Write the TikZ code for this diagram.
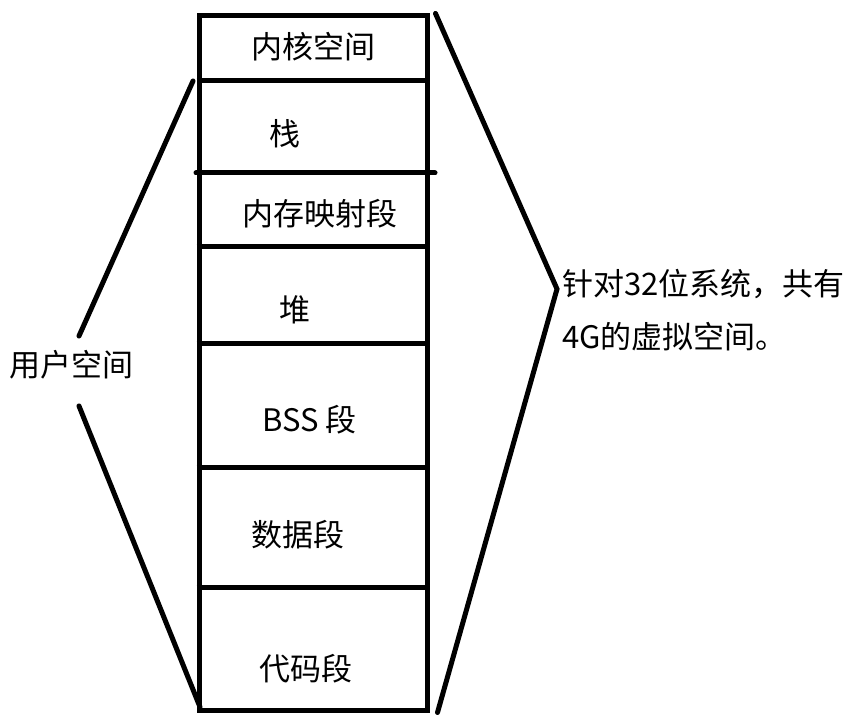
\documentclass[tikz,border=0pt]{standalone}
\usepackage{fontspec}
\setmainfont{Noto Sans CJK SC}

\begin{document}
\begin{tikzpicture}[
    x=1pt, y=-1pt,
    thick line/.style = {line width=5pt},
    brace/.style      = {line width=5pt, line cap=round},
    column/.style     = {draw, line width=5pt, minimum width=228pt,
                         minimum height=694pt, inner sep=0pt},
    seg/.style        = {font=\fontsize{31}{36}\selectfont, inner sep=0pt,
                         anchor=base west}
]
\useasboundingbox (0,0) rectangle (864,719);

% Memory column
\node[column] (mem) at (313,363) {};
\foreach \y in {81, 247, 343, 467, 587}
    \draw[thick line] (mem.west |- 0,\y) -- (mem.east |- 0,\y);
\draw[brace] (196,173) -- (435,173);

% Segment labels
\foreach \n/\x/\y/\t in {kernel/251/59/内核空间, stack/269/146/栈,
        mmap/242/226/内存映射段, heap/279/321/堆, bss/262/431/BSS 段,
        data/251/546/数据段, code/259/680/代码段}
    \node[seg] (\n) at (\x,\y) {\t};

% User space brace
\node[seg] (user) at (9,376) {用户空间};
\coordinate (uTop) at (193,81);
\coordinate (uUp)  at (79,336);
\coordinate (uLow) at (79,406);
\coordinate (uBot) at (200,707);
\draw[brace] (uTop) -- (uUp);
\draw[brace] (uLow) -- (uBot);

% Whole address space brace
\coordinate (tip) at (557,289);
\draw[brace] ([xshift=6pt]mem.north east) -- (tip)
    -- ([xshift=8pt]mem.south east);
\node[seg] (note1) at (562,295) {针对32位系统，共有};
\node[seg] (note2) at (562,348) {4G的虚拟空间。};

\end{tikzpicture}
\end{document}
